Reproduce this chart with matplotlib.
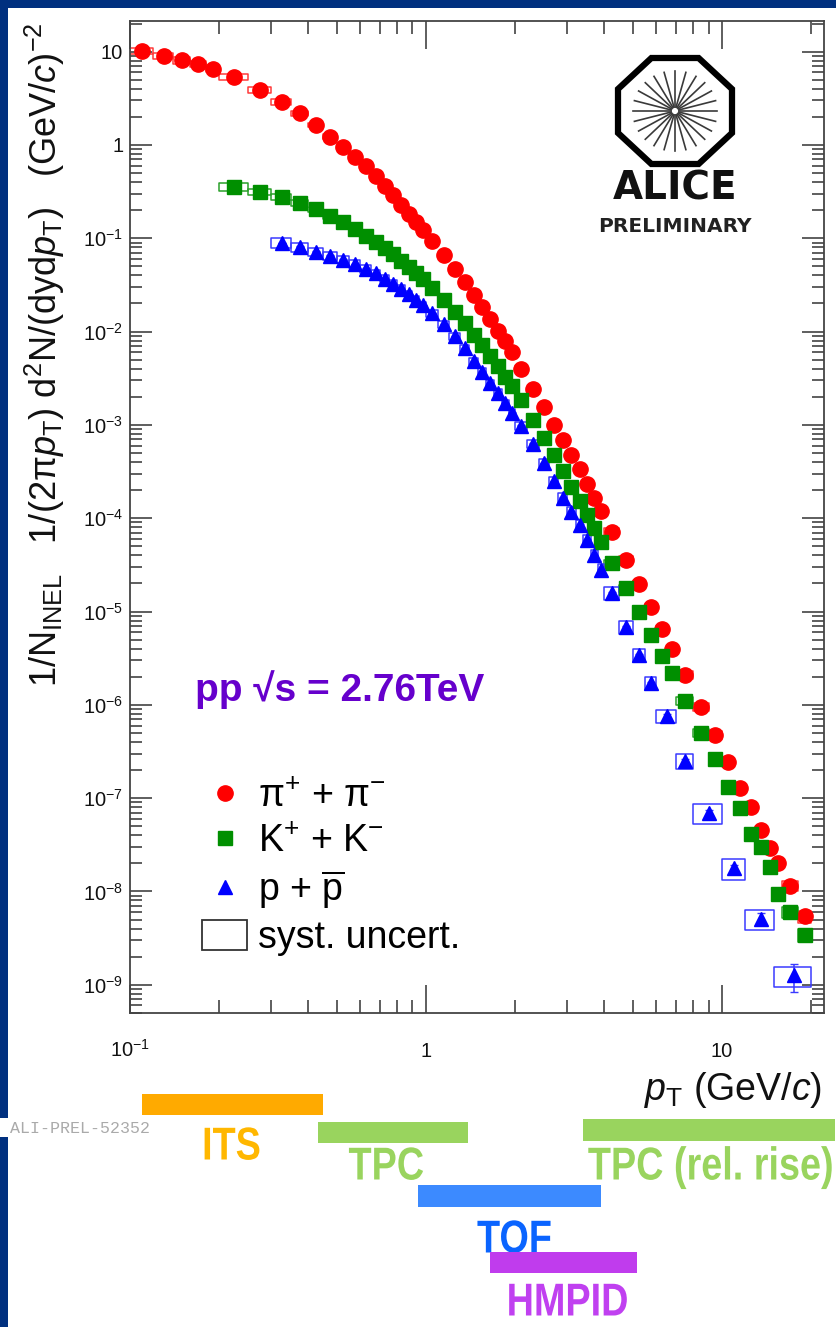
import numpy as np
import matplotlib
matplotlib.use('Agg')
from matplotlib import pyplot as plt
from matplotlib import transforms
from matplotlib.patches import Rectangle, Polygon, PathPatch
from matplotlib.collections import PatchCollection
from matplotlib.lines import Line2D
from matplotlib.textpath import TextPath
from matplotlib.font_manager import FontProperties
from matplotlib.ticker import LogLocator, FuncFormatter, NullFormatter

plt.rcParams['font.family'] = ['Liberation Sans', 'DejaVu Sans']
plt.rcParams['mathtext.fontset'] = 'custom'
plt.rcParams['mathtext.rm'] = 'Liberation Sans'
plt.rcParams['mathtext.it'] = 'Liberation Sans:italic'
plt.rcParams['mathtext.bf'] = 'Liberation Sans:bold'
plt.rcParams['mathtext.sf'] = 'Liberation Sans'

# ---- data: bin edges in pT (GeV/c) and yields ----
pi_edges = [0.10, 0.12, 0.14, 0.16, 0.18, 0.20, 0.25, 0.30, 0.35, 0.40, 0.45, 0.50, 0.55,
            0.60, 0.65, 0.70, 0.75, 0.80, 0.85, 0.90, 0.95, 1.00,
            1.1, 1.2, 1.3, 1.4, 1.5, 1.6, 1.7, 1.8, 1.9, 2.0,
            2.2, 2.4, 2.6, 2.8, 3.0, 3.2, 3.4, 3.6, 3.8, 4.0,
            4.5, 5.0, 5.5, 6.0, 6.5, 7.0, 8.0, 9.0, 10.0, 11.0, 12.0, 13.0, 14.0, 15.0,
            16.0, 18.0, 20.0]
pi_yield = [10.2, 9.0, 8.1, 7.4, 6.5,
            5.4, 3.9, 2.9, 2.2, 1.64, 1.23, 0.955, 0.75, 0.59, 0.46, 0.363, 0.288, 0.229,
            0.184, 0.150, 0.122,
            0.093, 0.066, 0.047, 0.0343, 0.0248, 0.0182, 0.0136, 0.0102, 0.0080, 0.0061,
            4.0e-3, 2.4e-3, 1.55e-3, 1.0e-3, 6.9e-4, 4.8e-4, 3.4e-4, 2.3e-4, 1.64e-4, 1.19e-4,
            7.2e-5, 3.6e-5, 1.95e-5, 1.11e-5, 6.5e-6, 4.0e-6,
            2.1e-6, 9.5e-7, 4.8e-7, 2.45e-7, 1.27e-7, 8.1e-8, 4.5e-8, 2.95e-8, 2.0e-8,
            1.15e-8, 5.4e-9]
pi_syst = [0.08, 0.08, 0.08, 0.08, 0.08,
           0.07, 0.07, 0.07, 0.06, 0.06, 0.06, 0.06, 0.06, 0.06, 0.06, 0.06, 0.06, 0.06,
           0.06, 0.06, 0.06,
           0.06, 0.06, 0.06, 0.06, 0.06, 0.06, 0.06, 0.06, 0.06, 0.06,
           0.07, 0.07, 0.07, 0.07, 0.07, 0.07, 0.07, 0.07, 0.07, 0.07,
           0.08, 0.08, 0.08, 0.08, 0.08, 0.08,
           0.09, 0.09, 0.10, 0.10, 0.11, 0.11, 0.12, 0.12, 0.12,
           0.13, 0.14]

ka_edges = [0.20, 0.25, 0.30, 0.35, 0.40, 0.45, 0.50, 0.55,
            0.60, 0.65, 0.70, 0.75, 0.80, 0.85, 0.90, 0.95, 1.00,
            1.1, 1.2, 1.3, 1.4, 1.5, 1.6, 1.7, 1.8, 1.9, 2.0,
            2.2, 2.4, 2.6, 2.8, 3.0, 3.2, 3.4, 3.6, 3.8, 4.0,
            4.5, 5.0, 5.5, 6.0, 6.5, 7.0, 8.0, 9.0, 10.0, 11.0, 12.0, 13.0, 14.0, 15.0,
            16.0, 18.0, 20.0]
ka_yield = [0.355, 0.313, 0.279, 0.240, 0.204, 0.174, 0.148, 0.126, 0.107, 0.091, 0.078,
            0.068, 0.0575, 0.049, 0.0427, 0.0363,
            0.0295, 0.022, 0.0162, 0.0123, 0.0093, 0.0071, 0.0055, 0.0043, 0.0033, 0.0026,
            1.86e-3, 1.12e-3, 7.2e-4, 4.7e-4, 3.2e-4, 2.14e-4, 1.51e-4, 1.07e-4, 7.9e-5, 5.6e-5,
            3.3e-5, 1.78e-5, 9.8e-6, 5.6e-6, 3.3e-6, 2.2e-6,
            1.1e-6, 5.0e-7, 2.6e-7, 1.32e-7, 7.8e-8, 4.1e-8, 3.0e-8, 1.84e-8, 9.3e-9,
            6.0e-9, 3.4e-9]
ka_syst = [0.09, 0.08, 0.08, 0.07, 0.07, 0.07, 0.07, 0.07, 0.07, 0.07, 0.07,
           0.07, 0.07, 0.07, 0.07, 0.07,
           0.07, 0.07, 0.07, 0.07, 0.07, 0.07, 0.07, 0.07, 0.07, 0.07,
           0.08, 0.08, 0.08, 0.08, 0.08, 0.08, 0.08, 0.08, 0.08, 0.08,
           0.09, 0.09, 0.09, 0.09, 0.09, 0.09,
           0.10, 0.10, 0.11, 0.11, 0.12, 0.12, 0.12, 0.13, 0.13,
           0.14, 0.15]

pr_edges = [0.30, 0.35, 0.40, 0.45, 0.50, 0.55, 0.60, 0.65, 0.70, 0.75, 0.80, 0.85, 0.90,
            0.95, 1.00,
            1.1, 1.2, 1.3, 1.4, 1.5, 1.6, 1.7, 1.8, 1.9, 2.0,
            2.2, 2.4, 2.6, 2.8, 3.0, 3.2, 3.4, 3.6, 3.8, 4.0,
            4.5, 5.0, 5.5, 6.0, 7.0, 8.0, 10.0, 12.0, 15.0, 20.0]
pr_yield = [0.089, 0.081, 0.072, 0.065, 0.059, 0.053, 0.047, 0.042, 0.037, 0.0327, 0.0288,
            0.0251, 0.0219, 0.0191,
            0.0158, 0.0120, 0.0089, 0.0066, 0.0048, 0.0037, 0.0028, 0.0022, 0.0017, 0.00135,
            9.8e-4, 6.3e-4, 3.9e-4, 2.5e-4, 1.66e-4, 1.17e-4, 8.5e-5, 5.9e-5, 4.0e-5, 2.8e-5,
            1.58e-5, 6.8e-6, 3.4e-6, 1.7e-6,
            7.6e-7, 2.5e-7, 6.9e-8, 1.78e-8, 5.1e-9, 1.26e-9]
pr_syst = [0.12, 0.11, 0.10, 0.09, 0.09, 0.09, 0.09, 0.09, 0.09, 0.09, 0.09,
           0.09, 0.09, 0.09,
           0.09, 0.09, 0.09, 0.09, 0.09, 0.09, 0.09, 0.09, 0.09, 0.09,
           0.10, 0.10, 0.11, 0.11, 0.12, 0.12, 0.13, 0.13, 0.14, 0.14,
           0.16, 0.16, 0.16, 0.16,
           0.17, 0.18, 0.24, 0.26, 0.24, 0.24]
pr_stat = [0.01, 0.01, 0.01, 0.01, 0.01, 0.01, 0.01, 0.01, 0.01, 0.01, 0.01,
           0.01, 0.01, 0.01,
           0.01, 0.01, 0.01, 0.01, 0.01, 0.01, 0.01, 0.01, 0.01, 0.01,
           0.01, 0.01, 0.01, 0.01, 0.02, 0.02, 0.02, 0.02, 0.02, 0.02,
           0.02, 0.03, 0.03, 0.04,
           0.05, 0.06, 0.07, 0.09, 0.14, 0.33]

# detector pT coverage (GeV/c) shown under the axis
det_names = ['ITS', 'TPC', 'TOF', 'HMPID', 'TPC (rel. rise)']
det_lo = [0.11, 0.43, 0.94, 1.64, 3.4]
det_hi = [0.45, 1.39, 3.9, 5.15, 24.0]

pi_color, ka_color, pr_color = '#ff0000', '#008f00', '#0000ff'

W, H = 837, 1327
fig = plt.figure(figsize=(W / 100, H / 100), dpi=100)
fig.patch.set_facecolor('#00307f')
fig.add_artist(Rectangle((8 / W, 0), 1, 1 - 8 / H, transform=fig.transFigure,
                         facecolor='white', edgecolor='none', zorder=-5))

ax = fig.add_axes([129.5 / W, 1 - 1013 / H, 694.5 / W, 992 / H])


def syst_boxes(edges, y, rel, color):
    lo, hi = np.array(edges[:-1]), np.array(edges[1:])
    y = np.array(y)
    err = y * np.array(rel)
    boxes = [Rectangle((l, v - e), h - l, 2 * e) for l, h, v, e in zip(lo, hi, y, err)]
    ax.add_collection(PatchCollection(boxes, facecolor='none', edgecolor=color,
                                      linewidth=1.1, zorder=2))


def centers(edges):
    e = np.array(edges)
    return 0.5 * (e[:-1] + e[1:])


syst_boxes(pi_edges, pi_yield, pi_syst, '#ff3a3a')
syst_boxes(ka_edges, ka_yield, ka_syst, '#2aa02a')
syst_boxes(pr_edges, pr_yield, pr_syst, '#3a3aff')

ax.plot(centers(pi_edges), pi_yield, ls='none', marker='o', ms=11, color=pi_color, zorder=3)
ax.plot(centers(ka_edges), ka_yield, ls='none', marker='s', ms=10.5, color=ka_color, zorder=4)
pr_y = np.array(pr_yield)
ax.errorbar(centers(pr_edges), pr_y, yerr=pr_y * np.array(pr_stat), ls='none', marker='^',
            ms=10.5, color=pr_color, ecolor='#3a3aff', elinewidth=1.1, capsize=3, zorder=5)

ax.set_xscale('log')
ax.set_yscale('log')
ax.set_xlim(0.0996, 22.1)
ax.set_ylim(4.98e-10, 21.3)


def log_label(v, pos):
    e = int(round(np.log10(v)))
    if e == 0:
        return '1'
    if e == 1:
        return '10'
    return r'10$^{\mathregular{%d}}$' % e


for axis in (ax.xaxis, ax.yaxis):
    axis.set_major_locator(LogLocator(base=10, numticks=30))
    axis.set_minor_locator(LogLocator(base=10, subs=np.arange(2, 10), numticks=30))
    axis.set_major_formatter(FuncFormatter(log_label))
    axis.set_minor_formatter(NullFormatter())

ax.tick_params(which='both', direction='in', top=True, right=True, color='#333333',
               width=1.1, labelsize=14.5, labelcolor='#111111')
ax.tick_params(axis='x', which='major', length=20, pad=31.5)
ax.tick_params(axis='x', which='minor', length=9.5)
ax.tick_params(axis='y', which='major', length=16, pad=4.5)
ax.tick_params(axis='y', which='minor', length=8.5)
for lab in ax.get_xticklabels():
    lab.set_verticalalignment('baseline')
for sp in ax.spines.values():
    sp.set_color('#444444')
    sp.set_linewidth(1.3)

# axis titles
fig.text(45 / W, 1 - 355 / H,
         r'1/N$_{\mathregular{INEL}}$   1/(2$\mathregular{\pi}$$p_{\mathregular{T}}$) '
         r'd$^{\mathregular{2}}$N/(dyd$p_{\mathregular{T}}$)   (GeV/$c$)$^{\mathregular{-2}}$',
         rotation=90, ha='center', va='center', fontsize=26, color='#111111')
fig.text(822 / W, 1 - 1090 / H, r'$p_{\mathregular{T}}$ (GeV/$c$)', ha='right', va='center',
         fontsize=27, color='#111111')

# legend
handles = [Line2D([], [], ls='none', marker='o', ms=11, color=pi_color),
           Line2D([], [], ls='none', marker='s', ms=10.5, color=ka_color),
           Line2D([], [], ls='none', marker='^', ms=10, color=pr_color),
           Rectangle((0, 0), 1, 1, facecolor='none', edgecolor='#333333', linewidth=1.3)]
labels = [r'$\mathregular{\pi^{+}}$ + $\mathregular{\pi^{-}}$',
          r'K$^{\mathregular{+}}$ + K$^{\mathregular{-}}$',
          r'p + $\overline{\mathregular{p}}$',
          'syst. uncert.']
ax.legend(handles, labels, loc='upper left', bbox_to_anchor=(0.104, 0.236), frameon=False,
          fontsize=27, handlelength=1.22, handleheight=0.88, handletextpad=0.28,
          labelspacing=0.23, borderpad=0, borderaxespad=0)

# collision system
fig.text(195 / W, 1 - 690 / H, 'pp √s = 2.76TeV', color='#6600cc', fontsize=28,
         fontweight='bold', ha='left', va='center')

# ALICE logo
logo = fig.add_axes([610 / W, 1 - 172 / H, 130 / W, 122 / H])
logo.set_xlim(-65, 65)
logo.set_ylim(-61, 61)
logo.axis('off')
ang = np.deg2rad(22.5 + 45 * np.arange(8))
octo = np.column_stack([57 / np.cos(np.pi / 8) * np.cos(ang), 53 / np.cos(np.pi / 8) * np.sin(ang)])
logo.add_patch(Polygon(octo, closed=True, fill=False, edgecolor='black', linewidth=4.5,
                       joinstyle='miter'))
for a in np.deg2rad(np.arange(0, 360, 15)):
    logo.plot([4 * np.cos(a), 42 * np.cos(a)], [4 * np.sin(a), 40 * np.sin(a)],
              color='#3a3a3a', lw=1.2)
fig.text(675 / W, 1 - 189 / H, 'ALICE', ha='center', va='center', fontsize=28,
         fontweight='bold', family='DejaVu Sans', color='#111111')
fig.text(675 / W, 1 - 226 / H, 'PRELIMINARY', ha='center', va='center', fontsize=14.5,
         fontweight='bold', family='DejaVu Sans', color='#222222')


# condensed bold labels (no narrow font installed, so squeeze the glyph outlines)
def narrow_text(s, x_px, y_px, cap_px, color, squeeze=0.82):
    tp = TextPath((0, 0), s, size=100, prop=FontProperties(family='Liberation Sans', weight='bold'))
    ext = tp.get_extents()
    k = cap_px / 71.6
    tr = (transforms.Affine2D().translate(-(ext.x0 + ext.width / 2), -71.6 / 2)
          .scale(squeeze * k, k).translate(x_px, H - y_px).scale(1 / W, 1 / H) + fig.transFigure)
    fig.add_artist(PathPatch(tp, facecolor=color, edgecolor='none', transform=tr))


# detector coverage bars below the axis
blend = transforms.blended_transform_factory(ax.transData, fig.transFigure)
bar_y = [(1094, 1115), (1122, 1143), (1185, 1207), (1252, 1273), (1119, 1141)]
bar_col = ['#ffaa00', '#99d45e', '#3c8aff', '#c03ced', '#99d45e']
txt_col = ['#ffb700', '#99d45e', '#0a64ff', '#c040f0', '#99d45e']
txt_xy = [(232, 1143), (386, 1163), (514, 1236), (568, 1299), (710, 1163)]
for name, lo, hi, (y0, y1), bc, tc, (tx, ty) in zip(det_names, det_lo, det_hi, bar_y,
                                                      bar_col, txt_col, txt_xy):
    fig.add_artist(Rectangle((lo, 1 - y1 / H), hi - lo, (y1 - y0) / H, transform=blend,
                             facecolor=bc, edgecolor='none', clip_on=False))
    narrow_text(name, tx, ty, 33, tc)

# preliminary figure id
fig.add_artist(Rectangle((0, 1 - 1137 / H), 165 / W, 19 / H, transform=fig.transFigure,
                         facecolor='white', edgecolor='none'))
fig.text(10 / W, 1 - 1133 / H, 'ALI-PREL-52352', ha='left', va='baseline', fontsize=12,
         family='Liberation Mono', color='#aaaaaa')

fig.savefig('out.png', dpi=100, facecolor=fig.get_facecolor())
